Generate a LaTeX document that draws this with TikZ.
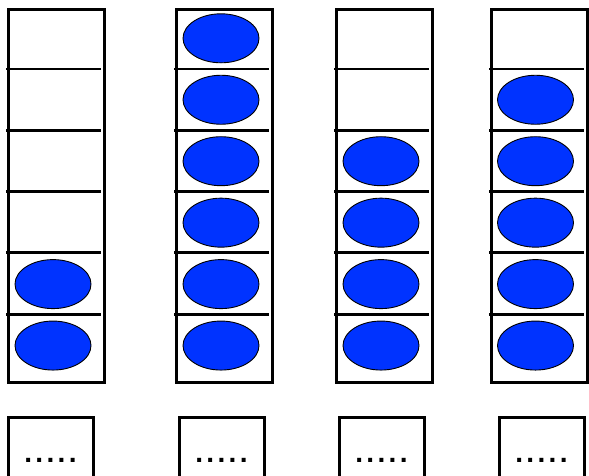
\documentclass[tikz,border=0pt]{standalone}
\usepackage{fontspec}
\setmainfont{Liberation Sans}
\newfontfamily\dotsfont[LetterSpace=12, BoldFont={Liberation Sans Bold}]{Liberation Sans}
\usetikzlibrary{shapes.geometric, positioning, calc}
\definecolor{ballblue}{RGB}{0,51,255}
\tikzset{
  tube/.style={rectangle, draw=black, line width=3pt,
    minimum width=96pt, minimum height=373pt, inner sep=0pt},
  ball/.style={ellipse, draw=black, fill=ballblue, line width=0.9pt,
    minimum width=76pt, minimum height=49pt, inner sep=0pt},
  divider/.style={line width=2.9pt, color=black},
  tag/.style={rectangle, draw=black, line width=3pt,
    minimum width=85pt, minimum height=70pt, inner sep=0pt},
  dots/.style={font=\dotsfont\bfseries\fontsize{28}{28}\selectfont, inner sep=0pt}
}
\begin{document}
\begin{tikzpicture}[x=1pt, y=-1pt]
  \useasboundingbox (0,0) rectangle (589,475);
  % ── Tubes ──
  \node[tube] (tubeA) at (56,195.5) {};
  \node[tube] (tubeB) at (224,195.5) {};
  \node[tube] (tubeC) at (384,195.5) {};
  \node[tube] (tubeD) at (539,195.5) {};
  % Dividers
  \foreach \t/\xa/\xb in {A/6/101, B/174/269, C/334/429, D/489/584}
    \foreach \y in {69,130.3,191.6,252.9,314.2}
      \draw[divider] (\xa,\y) -- (\xb,\y);
  % ── Balls ──
  % tube A: two
  \foreach \k in {4,5}
    \node[ball] (ballA\k) at (53,38.3+61.45*\k) {};
  % tube B: full
  \foreach \k in {0,...,5}
    \node[ball] (ballB\k) at (221,38.3+61.45*\k) {};
  % tube C: four
  \foreach \k in {2,...,5}
    \node[ball] (ballC\k) at (381,38.3+61.45*\k) {};
  % tube D: five
  \foreach \k in {1,...,5}
    \node[ball] (ballD\k) at (535.5,38.3+61.45*\k) {};
  % ── Tags below ──
  \node[tag] (tagA) at (50.5,452) {};
  \node[tag] (tagB) at (221.5,452) {};
  \node[tag] (tagC) at (381.5,452) {};
  \node[tag] (tagD) at (541.5,452) {};
  \foreach \t in {A,B,C,D}
    \node[dots, anchor=base] at ($(tag\t.center)+(0,10)$) {.....};
\end{tikzpicture}
\end{document}
